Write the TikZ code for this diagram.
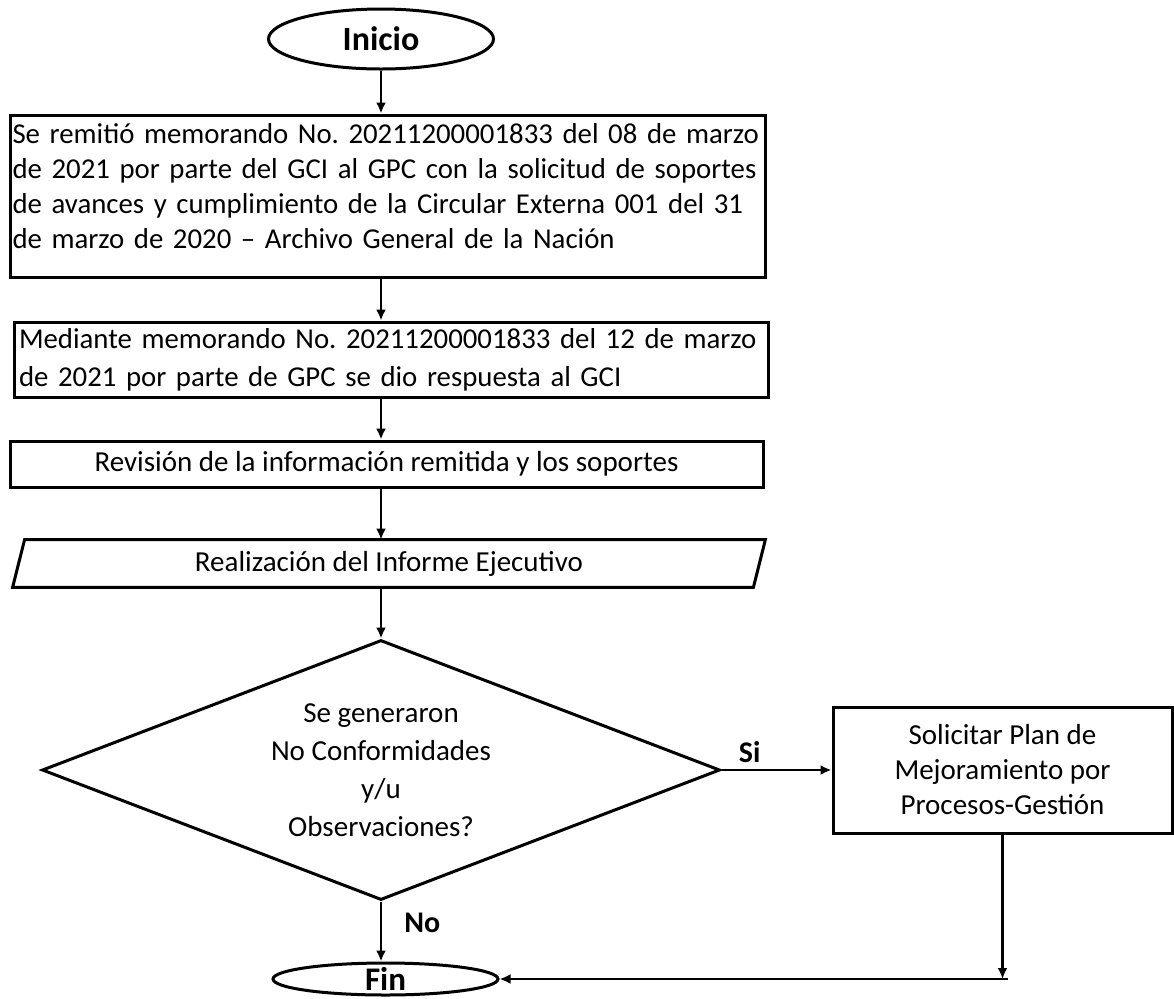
\documentclass[tikz,border=0pt]{standalone}
\usepackage{fontspec}
\setmainfont{Carlito}
\usetikzlibrary{shapes.geometric,arrows.meta,positioning}
\frenchspacing
\tolerance=10000
\hyphenpenalty=10000

\begin{document}
\begin{tikzpicture}[x=0.5pt,y=-0.5pt,
        every node/.style={font=\fontsize{14.5}{18}\selectfont},
        caja/.style={draw, line width=1.5pt, inner sep=1pt},
        terminal/.style={draw, ellipse, line width=1.5pt, inner sep=0pt, minimum width=112.5pt},
        flecha/.style={line width=1.4pt, -{Latex[length=5.5pt,width=5pt]}},
        etiqueta/.style={font=\fontsize{15}{18}\selectfont\bfseries, inner sep=0pt}]
    \useasboundingbox (0,0) rectangle (1174,998);

    \node[terminal, minimum height=30pt] (inicio) at (381,39) {\fontsize{17}{20}\selectfont\bfseries Inicio};
    \node[caja, minimum width=377.5pt, minimum height=81pt, text width=375pt,
        font=\fontsize{14.4}{17.5}\selectfont] (remite) at (387.5,196) {%
        Se remitió memorando No. 20211200001833 del 08 de marzo\linebreak
        de 2021 por parte del GCI al GPC con la solicitud de soportes\linebreak
        de avances y cumplimiento de la Circular Externa 001 del 31\linebreak
        de marzo de 2020 – Archivo General de la Nación\\[-7pt]\mbox{}};
    \node[caja, minimum width=377pt, minimum height=37.5pt, text width=372pt,
        font=\fontsize{14.4}{19}\selectfont] (respuesta) at (391,359.5) {%
        Mediante memorando No. 20211200001833 del 12 de marzo\linebreak
        de 2021 por parte de GPC se dio respuesta al GCI};
    \node[caja, minimum width=376.5pt, minimum height=23pt] (revision) at (386.5,464) {Revisión de la información remitida y los soportes};
    \node[inner sep=0pt, minimum width=370pt, minimum height=23.5pt] (informe) at (389,563.5) {Realización del Informe Ejecutivo};
    \draw[line width=1.5pt] ([xshift=3pt]informe.north west) -- ([xshift=3pt]informe.north east)
        -- ([xshift=-3pt]informe.south east) -- ([xshift=-3pt]informe.south west) -- cycle;
    \node[draw, diamond, aspect=2.6, line width=1.5pt, inner sep=0pt, minimum width=339pt, minimum height=130pt,
        align=center, font=\fontsize{14.5}{19}\selectfont] (decision) at (381,770) {Se generaron\\No Conformidades\\y/u\\Observaciones?};
    \node[caja, minimum width=169.5pt, minimum height=63pt, align=center,
        font=\fontsize{14.5}{17.5}\selectfont] (plan) at (1002.5,770) {Solicitar Plan de\\Mejoramiento por\\Procesos-Gestión};
    \node[terminal, minimum height=16pt, label={[font=\fontsize{16.5}{20}\selectfont\bfseries, inner sep=0pt]center:Fin}] (fin) at (385.5,979) {};
    \coordinate (junta) at (plan.south |- fin.east);

    \draw[flecha] (inicio.south) -- (inicio.south |- remite.north);
    \draw[flecha] (remite.south -| inicio) -- (respuesta.north -| inicio);
    \draw[flecha] (respuesta.south -| inicio) -- (revision.north -| inicio);
    \draw[flecha] (revision.south -| inicio) -- (informe.north -| inicio);
    \draw[flecha] (informe.south -| decision) -- (decision.north);
    \draw[flecha] (decision.east) -- (plan.west) node[etiqueta, above right=3pt and 8pt of decision.east] (si) {Si};
    \draw[flecha] (decision.south) -- (decision.south |- fin.north) node[etiqueta, below right=5pt and 11pt of decision.south] (no) {No};
    \draw[flecha] (plan.south) -- (junta);
    \draw[flecha] ([xshift=2.5pt]junta) -- (fin.east);
\end{tikzpicture}
\end{document}
